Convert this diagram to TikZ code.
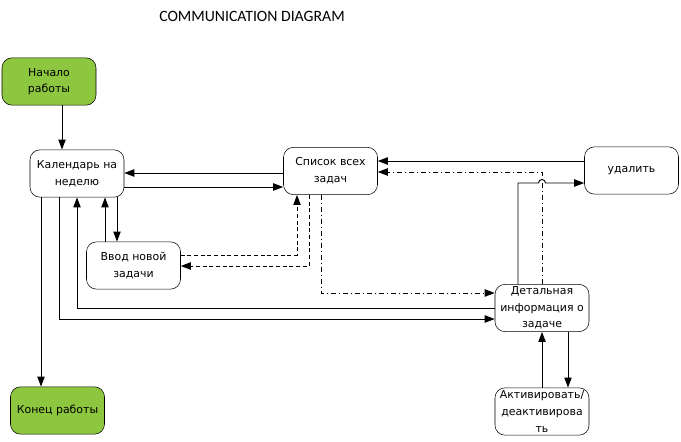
\documentclass[tikz,border=0pt]{standalone}
\usepackage{fontspec}
\setmainfont{DejaVu Sans}
\newfontfamily\titlefont{Carlito}
\usetikzlibrary{arrows.meta}
\definecolor{startgreen}{RGB}{141,198,63}
\tikzset{
  box/.style={draw, rounded corners=7.5pt, minimum width=70.5pt, minimum height=35.5pt,
    align=center, inner sep=1pt, font=\fontsize{8.2}{12.5}\selectfont},
  greenbox/.style={box, fill=startgreen},
  arr/.style={-{Triangle[length=7.5pt,width=5.5pt]}, line width=0.7pt},
  dashline/.style={arr, dash pattern=on 3pt off 2pt},
  dotline/.style={arr, dash pattern=on 4pt off 2pt on 1pt off 2pt},
}
\begin{document}
\begin{tikzpicture}[x=0.75pt,y=0.75pt,yscale=-1,xscale=1]
\useasboundingbox (0,0) rectangle (681,442);
\node (title) at (252,16) {\titlefont\fontsize{11.8}{13}\selectfont COMMUNICATION DIAGRAM};
\node [greenbox] (start) at (49,81.5) {Начало\\работы};
\node [box] (cal) at (77,173.5) {Календарь на\\неделю};
\node [box] (list) at (330.5,171) {Список всех\\задач};
\node [box] (del) at (631.5,170.5) {удалить};
\node [box] (input) at (133.5,265.5) {Ввод новой\\задачи};
\node [box] (detail) at (542,308) {Детальная\\информация о\\задаче};
\node [box] (act) at (542,411.5) {Активировать/\\деактивирова\\ть};
\node [greenbox] (finish) at (57.5,410.5) {Конец работы};
% start and calendar
\draw [arr] (62,0 |- start.south) -- (62,0 |- cal.north);
\draw [arr] (list.west |- 0,173) -- (cal.east |- 0,173);
\draw [arr] (cal.east |- 0,187) -- (list.west |- 0,187);
\draw [arr] (41,0 |- cal.south) -- (41,0 |- finish.north);
% calendar and detail
\draw [arr] (59,0 |- cal.south) |- (detail.west |- 0,319);
\draw [arr] (detail.west |- 0,308) -| (77,0 |- cal.south);
% calendar and input
\draw [arr] (105,0 |- input.north) -- (105,0 |- cal.south);
\draw [arr] (117,0 |- cal.south) -- (117,0 |- input.north);
% list and input
\draw [dashline] (input.east |- 0,255) -| (297,0 |- list.south);
\draw [dashline] (309,0 |- list.south) |- (input.east |- 0,266);
\draw [dotline] (321,0 |- list.south) |- (detail.west |- 0,293);
% detail, delete, list
\draw [arr] (518,0 |- detail.north) -- (518,183) -- (538.5,183)
  arc [start angle=180, end angle=360, radius=3.5] -- (del.west |- 0,183);
\draw [dotline] (542,0 |- detail.north) |- (list.east |- 0,172);
\draw [arr] (del.west |- 0,161) -- (list.east |- 0,161);
% detail and activate
\draw [arr] (542,0 |- act.north) -- (542,0 |- detail.south);
\draw [arr] (568,0 |- detail.south) -- (568,0 |- act.north);
\end{tikzpicture}
\end{document}
